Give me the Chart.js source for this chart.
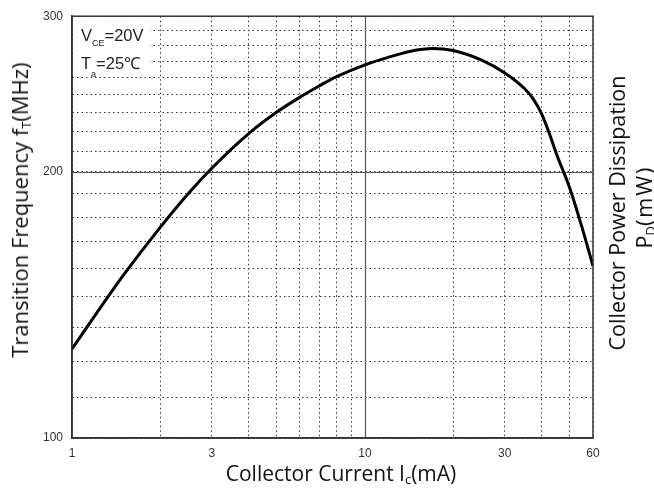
<!DOCTYPE html>
<html lang="en">

<head>
    <meta charset="UTF-8">
    <script src="https://cdn.jsdelivr.net/npm/chart.js"></script>
    <title>Transition Frequency vs Collector Current</title>
    <style>
        body { margin: 0; background: #fff; }
        .wrap { position: relative; width: 654px; height: 493px; }
        .txt { position: absolute; white-space: nowrap; font-family: "Open Sans", sans-serif; color: #111; }
        .note { position: absolute; font-family: "Liberation Sans", Arial, sans-serif; font-size: 16.5px; line-height: 16px; color: #222; white-space: nowrap; }
        .note small { font-size: 9px; position: relative; }
    </style>
</head>

<body>
    <div class="wrap">
        <canvas id="myChart" width="654" height="493"></canvas>

        <!-- conditions box -->
        <div class="note" style="left:81px; top:27px">V<small style="top:5px">CE</small>=20V</div>
        <div class="note" style="left:81px; top:55px">T<small style="top:8px">a</small>=25℃</div>

        <!-- axis titles -->
        <div class="txt" style="left:341px; top:459px; font-size:21px; line-height:28px; transform:translateX(-50%)">
            Collector Current I<span style="font-size:13px; position:relative; top:3px">c</span>(mA)
        </div>
        <div class="txt" style="left:21px; top:210px; font-size:22px; line-height:22px; transform:translate(-50%,-50%) rotate(-90deg)">
            Transition Frequency f<span style="font-size:13px; position:relative; top:3px">T</span>(MHz)
        </div>
        <div class="txt" style="left:617px; top:213px; font-size:21.5px; line-height:22px; transform:translate(-50%,-50%) rotate(-90deg)">
            Collector Power Dissipation
        </div>
        <div class="txt" style="left:645px; top:207px; font-size:21.5px; line-height:22px; transform:translate(-50%,-50%) rotate(-90deg)">
            P<span style="font-size:13px; position:relative; top:3px">D</span><span style="letter-spacing:2px">(mW)</span>
        </div>
    </div>

<script>
    // curve (Ic in mA, fT in MHz)
    const current = [1, 1.25, 1.5, 2, 2.5, 3, 4, 5, 6, 7, 8, 10, 12, 15, 17, 20, 25, 30, 35, 37.5, 40, 42.5, 45, 50, 55, 60];
    const fT = [126.1, 140.4, 152.9, 173.1, 189.2, 201.9, 220.8, 233.7, 243.0, 250.3, 256.3, 264.3,
        269.5, 274.7, 275.8, 274.3, 267.5, 258.8, 248.5, 241.9, 232.9, 221.4, 209.7, 191.7, 173.2, 156.5];

    // grid lines and labelled ticks
    const xGrid = [1, 2, 3, 4, 5, 6, 7, 8, 9, 10, 20, 30, 40, 50, 60];
    const xLabels = [1, 3, 10, 30, 60];
    const yGrid = [100, 111.1, 122.2, 133.3, 144.4, 155.6, 166.7, 177.8, 188.9, 200,
        211.1, 222.2, 233.3, 244.4, 255.6, 266.7, 277.8, 288.9, 300];
    const yLabels = [100, 200, 300];
    const majorX = 10;
    const majorY = 200;

    const tickFont = { family: 'Liberation Sans, Arial, sans-serif', size: 12 };

    // solid major lines, white note box and the frame
    const frame = {
        id: 'frame',
        beforeDatasetsDraw(chart) {
            const { ctx, chartArea: a, scales: { x, y } } = chart;
            ctx.save();
            ctx.fillStyle = '#fff';
            ctx.fillRect(a.left + 1, a.top + 1, 77, 56);
            ctx.strokeStyle = '#555';
            ctx.lineWidth = 1.2;
            ctx.beginPath();
            const px = Math.round(x.getPixelForValue(majorX)) + 0.5;
            const py = Math.round(y.getPixelForValue(majorY)) + 0.5;
            ctx.moveTo(px, a.top);
            ctx.lineTo(px, a.bottom);
            ctx.moveTo(a.left, py);
            ctx.lineTo(a.right, py);
            ctx.stroke();
            ctx.restore();
        },
        afterDatasetsDraw(chart) {
            const { ctx, chartArea: a } = chart;
            ctx.save();
            ctx.strokeStyle = '#333';
            ctx.lineWidth = 1.5;
            ctx.strokeRect(a.left, a.top, a.right - a.left, a.bottom - a.top);
            ctx.restore();
        }
    };

    const data = {
        datasets: [{
            data: current.map((c, i) => ({ x: c, y: fT[i] })),
            borderColor: '#000',
            borderWidth: 3,
            pointRadius: 0,
            cubicInterpolationMode: 'monotone',
            fill: false,
        }]
    };

    const config = {
        type: 'line',
        data: data,
        options: {
            responsive: false,
            animation: false,
            devicePixelRatio: 1,
            layout: { padding: { left: 0, top: 15, right: 61, bottom: 0 } },
            plugins: {
                legend: { display: false },
                tooltip: { enabled: false },
            },
            scales: {
                x: {
                    type: 'logarithmic',
                    min: 1,
                    max: 60,
                    afterBuildTicks: (scale) => { scale.ticks = xGrid.map(v => ({ value: v })); },
                    afterFit: (scale) => { scale.height = 55; },
                    grid: { color: '#333', lineWidth: 1, drawTicks: false },
                    border: { display: true, color: '#333', width: 1.5, dash: [1.5, 3] },
                    ticks: {
                        autoSkip: false,
                        maxRotation: 0,
                        padding: 8,
                        color: '#333',
                        font: tickFont,
                        callback: (v) => xLabels.includes(v) ? String(v) : '',
                    },
                },
                y: {
                    type: 'logarithmic',
                    min: 100,
                    max: 300,
                    afterBuildTicks: (scale) => { scale.ticks = yGrid.map(v => ({ value: v })); },
                    afterFit: (scale) => { scale.width = 72; },
                    grid: { color: '#333', lineWidth: 1, drawTicks: false },
                    border: { display: true, color: '#333', width: 1.5, dash: [1.5, 3] },
                    ticks: {
                        autoSkip: false,
                        padding: 9,
                        color: '#333',
                        font: tickFont,
                        callback: (v) => yLabels.includes(v) ? String(v) : '',
                    },
                },
            },
        },
        plugins: [frame],
    };

    const myChart = new Chart(document.getElementById('myChart'), config);
</script>
</body>

</html>
